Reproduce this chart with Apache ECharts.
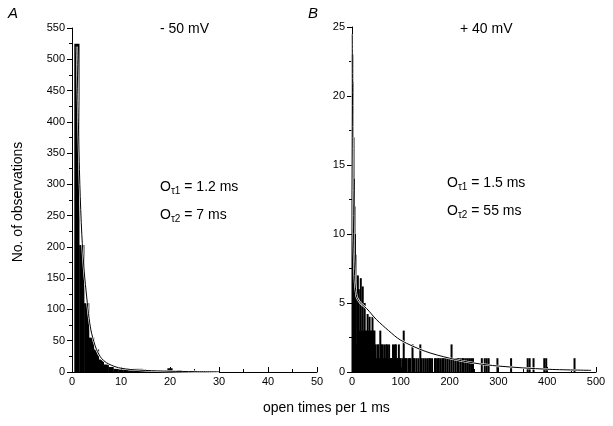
<!DOCTYPE html>
<html>
<head>
<meta charset="utf-8">
<script src="https://cdn.jsdelivr.net/npm/echarts@6/dist/echarts.min.js"></script>
<style>
  html, body { margin: 0; padding: 0; background: #fff; }
  #chart { width: 613px; height: 426px; }
</style>
</head>
<body>
<div id="chart"></div>
<script>
// panel A (-50 mV): 1 ms bins
const aBinX = [1, 2, 3, 4, 5, 6, 7, 8, 9, 10, 11, 12, 13, 14, 15, 16, 17, 18, 19, 20, 21, 22]
const aCount = [525, 203, 110, 55, 36, 20, 12, 8, 5, 4, 5, 3, 5, 5, 3, 3, 2, 3, 3, 6, 2, 3]
// fitted curve A
const aFitX = [1, 1.3, 1.6, 2, 2.5, 3, 3.5, 4, 5, 6, 7, 8, 9, 10, 12, 15, 20, 25, 30]
const aFitY = [520, 400, 300, 220, 160, 120, 85, 62, 36, 22, 15, 11, 8, 6, 4, 2.5, 1.2, 0.6, 0.3]

// panel B (+40 mV)
const bBinX = [1, 2, 3, 4, 5, 6, 7, 8, 10, 12, 14, 16, 18, 20, 22, 24, 26, 28, 30, 32, 34, 36, 38, 40, 42, 44, 46, 48, 50,
  52, 54, 56, 58, 60, 62, 64, 66, 68, 70, 72, 74, 76, 78, 80, 82, 84, 86, 88, 90, 92, 94, 96, 98, 100,
  104, 106, 108, 110, 112, 116, 118, 120, 124, 126, 128, 132, 136, 140, 142, 146, 150, 154, 158, 160, 164,
  170, 172, 176, 178, 182, 186, 188, 192, 196, 200, 204, 208, 212, 216, 218, 222, 226, 228, 232, 236, 240, 244, 248,
  266, 272, 276, 280, 298, 326, 360, 364, 372, 394, 398, 456]
const bCount = [23, 21, 17, 14, 12, 10, 8.5, 6, 2, 7, 6, 3, 6.8, 3, 6.2, 3, 5, 3, 3, 4.2, 3, 4, 3, 3, 4, 3, 3, 2, 1,
  2, 2, 1, 3, 2, 2, 1, 2, 1, 2, 2, 1, 2, 1, 1, 1, 2, 1, 2, 2, 1, 1, 2, 1, 1,
  1, 3, 1, 1, 1, 1, 1, 1, 2, 1, 1, 1, 1, 2, 1, 1, 1, 1, 1, 1, 1,
  1, 1, 1, 1, 1, 1, 1, 1, 1, 1, 2, 1, 1, 1, 1, 1, 1, 1, 1, 1, 1, 1, 1,
  1, 1, 1, 1, 1, 1, 1, 1, 1, 1, 1, 1]
const bFitX = [0.5, 1, 2, 3, 4, 6, 8, 10, 15, 20, 30, 50, 75, 100, 150, 200, 250, 300, 400, 490]
const bFitY = [24.5, 20, 14, 10.5, 8.5, 6.5, 5.8, 5.4, 5.1, 4.9, 4.6, 3.8, 3, 2.3, 1.5, 1.0, 0.65, 0.43, 0.2, 0.12]

const pair = (xs, ys) => xs.map((x, i) => [x, ys[i]])

const chart = echarts.init(document.getElementById('chart'))

const font = 'Liberation Sans, Arial, sans-serif'
const axisLine = { show: true, lineStyle: { color: '#000', width: 1 } }

function xAxisOf(idx, max, interval) {
    return {
        type: 'value', gridIndex: idx, min: 0, max: max, interval: interval,
        axisLine: axisLine,
        axisTick: { show: true, inside: true, length: 5, lineStyle: { color: '#000' } },
        minorTick: { show: true, splitNumber: 2, length: 3, lineStyle: { color: '#000' } },
        axisLabel: { color: '#000', fontSize: 11, fontFamily: font, margin: 4 },
        splitLine: { show: false }
    }
}
function yAxisOf(idx, max, interval) {
    return {
        type: 'value', gridIndex: idx, min: 0, max: max, interval: interval,
        axisLine: axisLine,
        axisTick: { show: true, inside: false, length: 5, lineStyle: { color: '#000' } },
        minorTick: { show: true, splitNumber: 2, length: 3, lineStyle: { color: '#000' } },
        axisLabel: { color: '#000', fontSize: 11, fontFamily: font, margin: 7 },
        splitLine: { show: false }
    }
}

const txt = (left, top, text, extra) => ({
    type: 'text', left: left, top: top,
    style: Object.assign({ text: text, fill: '#000', font: '14px ' + font }, extra || {})
})
const tauText = (left, top, n, v) => ({
    type: 'text', left: left, top: top,
    style: {
        text: '{m|O}{s|τ' + n + '}{m| = ' + v + '}',
        rich: {
            m: { fontSize: 14, fontFamily: font, fill: '#000' },
            s: { fontSize: 10, fontFamily: font, fill: '#000', padding: [8, 0, 0, 0] }
        }
    }
})

function fitLines(ax, xs, ys) {
    return [
        {
            type: 'line', xAxisIndex: ax, yAxisIndex: ax, smooth: 0.3, symbol: 'none',
            lineStyle: { color: '#fff', width: 2.2 },
            data: pair(xs, ys)
        },
        {
            type: 'line', xAxisIndex: ax, yAxisIndex: ax, smooth: 0.3, symbol: 'none',
            lineStyle: { color: '#000', width: 1 },
            data: pair(xs, ys)
        }
    ]
}

const option = {
    animation: false,
    backgroundColor: '#fff',
    grid: [
        { left: 72, right: 296, top: 28, bottom: 54 },
        { left: 352, right: 17, top: 27, bottom: 54 }
    ],
    xAxis: [xAxisOf(0, 50, 10), xAxisOf(1, 500, 100)],
    yAxis: [yAxisOf(0, 550, 50), yAxisOf(1, 25, 5)],
    series: [
        {
            type: 'bar', xAxisIndex: 0, yAxisIndex: 0, barWidth: 5.2,
            itemStyle: { color: '#000' },
            data: pair(aBinX, aCount)
        },
        ...fitLines(0, aFitX, aFitY),
        {
            type: 'bar', xAxisIndex: 1, yAxisIndex: 1, barWidth: 2,
            itemStyle: { color: '#000' },
            data: pair(bBinX, bCount)
        },
        ...fitLines(1, bFitX, bFitY)
    ],
    graphic: [
        txt(8, 6, 'A', { font: 'italic 15px ' + font }),
        txt(308, 6, 'B', { font: 'italic 15px ' + font }),
        txt(160, 22, '- 50 mV'),
        txt(460, 22, '+ 40 mV'),
        tauText(160, 180, 1, '1.2 ms'),
        tauText(160, 208, 2, '7 ms'),
        tauText(447, 176, 1, '1.5 ms'),
        tauText(447, 204, 2, '55 ms'),
        txt(263, 401, 'open times per 1 ms'),
        {
            type: 'text', x: 18, y: 202, rotation: Math.PI / 2,
            style: { text: 'No. of observations', fill: '#000', font: '14px ' + font, align: 'center', verticalAlign: 'middle' }
        }
    ]
}

chart.setOption(option)
</script>
</body>
</html>
